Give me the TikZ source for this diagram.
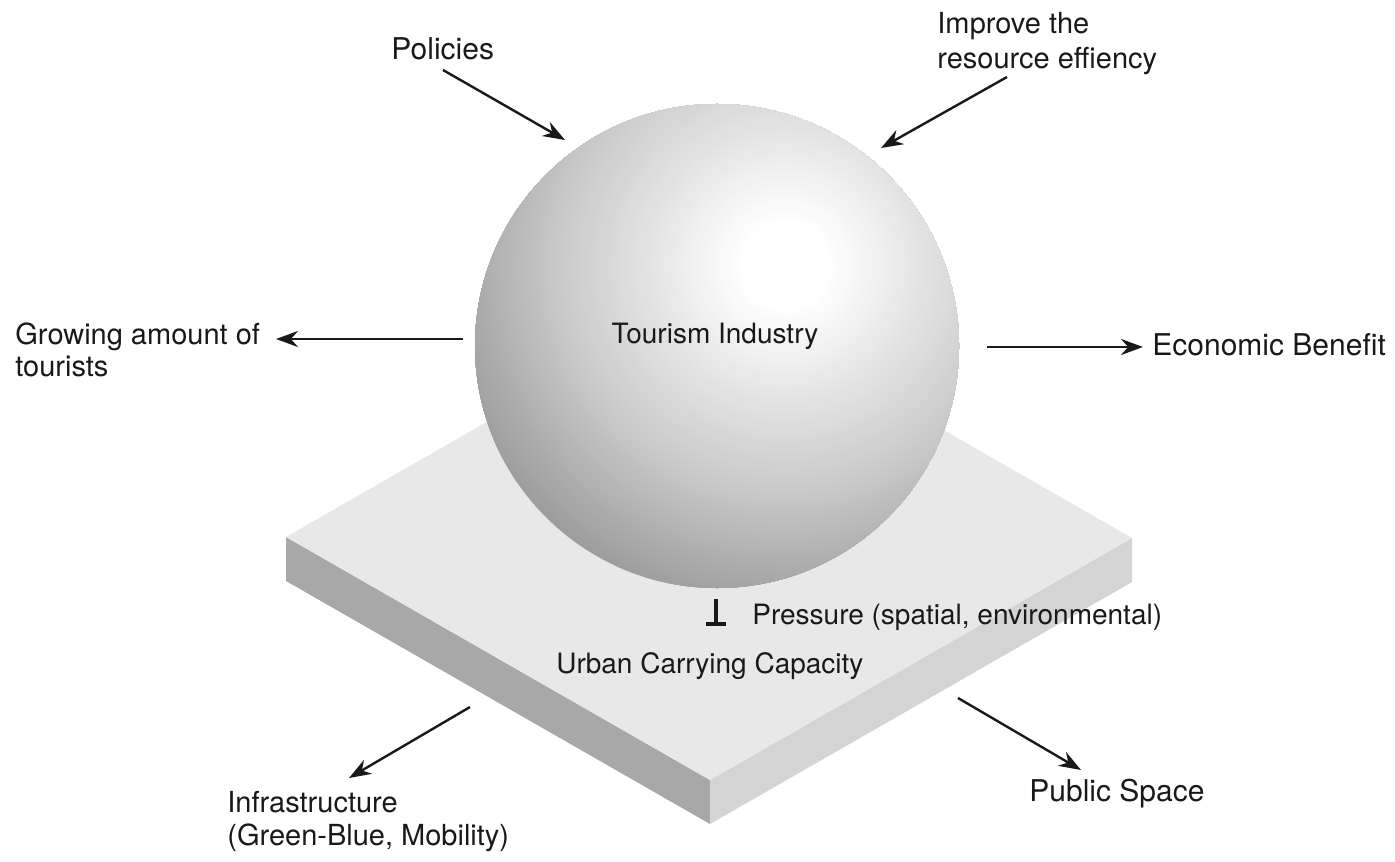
\documentclass[tikz,border=0pt]{standalone}
\usepackage{fontspec}
\setmainfont{TeX Gyre Heros}
\usetikzlibrary{arrows.meta}

\definecolor{ink}{gray}{0.1}
\definecolor{slabtop}{gray}{0.91}
\definecolor{slableft}{gray}{0.66}
\definecolor{slabright}{gray}{0.83}

\tikzset{
  arr/.style={draw=ink, line width=1.2pt, -{Stealth[length=11pt,width=8pt]}},
  lbl/.style={inner sep=0pt, text=ink, font=\fontsize{15}{17}\selectfont},
  sml/.style={inner sep=0pt, text=ink, font=\fontsize{14}{17}\selectfont}
}

\begin{document}
\begin{tikzpicture}[x=0.5pt, y=-0.5pt]
        \useasboundingbox (0, 0) rectangle (1395, 861);

        % slab
        \coordinate (slabL) at (286, 537);
        \coordinate (slabT) at (708, 295);
        \coordinate (slabR) at (1132, 538);
        \coordinate (slabB) at (710, 780);
        \fill[slableft] (slabL) -- (slabB) -- ([yshift=-22pt]slabB) -- ([yshift=-22pt]slabL) -- cycle;
        \fill[slabright] (slabB) -- (slabR) -- ([yshift=-22pt]slabR) -- ([yshift=-22pt]slabB) -- cycle;
        \fill[slabtop] (slabL) -- (slabT) -- (slabR) -- (slabB) -- cycle;

        % sphere, lit from the upper right
        \coordinate (ball) at (717, 346);
        \coordinate (glow) at (785, 265);
        \begin{scope}
          \clip (ball) circle (242);
          \foreach \d in {348,345,...,0} {
            \pgfmathsetmacro\q{10*max(0,min(\d,130)-45)/85 + 10*max(0,min(\d,220)-130)/90 + 18*max(0,\d-220)/125}
            \fill[black!\q] (glow) circle (\d);
          }
        \end{scope}
        \node[sml] (tourism) at (715, 336) {Tourism Industry};

        % labels
        \node[lbl, anchor=base west] (policies) at (391, 60) {Policies};
        \node[lbl, anchor=north west, align=left, font=\fontsize{14.5}{17.5}\selectfont] (improve) at (937, 12) {Improve the\\resource effiency};
        \node[lbl, anchor=north west, align=left, font=\fontsize{14.5}{16}\selectfont] (growing) at (15, 322) {Growing amount of\\tourists};
        \node[lbl, anchor=base west] (economic) at (1152, 355) {Economic Benefit};
        \node[sml, anchor=base west] (pressure) at (752, 624) {Pressure (spatial, environmental)};
        \node[sml, anchor=base west] (urban) at (556, 673) {Urban Carrying Capacity};
        \node[lbl, anchor=north west, align=left, font=\fontsize{14.5}{16.5}\selectfont] (infra) at (227, 791) {Infrastructure\\(Green-Blue, Mobility)};
        \node[lbl, anchor=base west] (public) at (1029, 801) {Public Space};

        % arrow ends
        \coordinate (polA) at (443, 70);
        \coordinate (polB) at (565, 140);
        \coordinate (impA) at (1007, 77);
        \coordinate (impB) at (881, 148);
        \coordinate (growA) at (463, 339);
        \coordinate (growB) at (276, 339);
        \coordinate (ecoA) at (987, 347);
        \coordinate (ecoB) at (1143, 347);
        \coordinate (infA) at (470, 707);
        \coordinate (infB) at (349, 778);
        \coordinate (pubA) at (958, 698);
        \coordinate (pubB) at (1081, 770);
        \coordinate (presA) at (716, 599);
        \coordinate (presB) at (716, 626);

        \draw[arr] (polA) -- (polB);
        \draw[arr] (impA) -- (impB);
        \draw[arr] (growA) -- (growB);
        \draw[arr] (ecoA) -- (ecoB);
        \draw[arr] (infA) -- (infB);
        \draw[arr] (pubA) -- (pubB);
        \draw[draw=ink, line width=2.2pt, -{Bar[width=10pt, line width=2.2pt]}] (presA) -- (presB);

\end{tikzpicture}
\end{document}
